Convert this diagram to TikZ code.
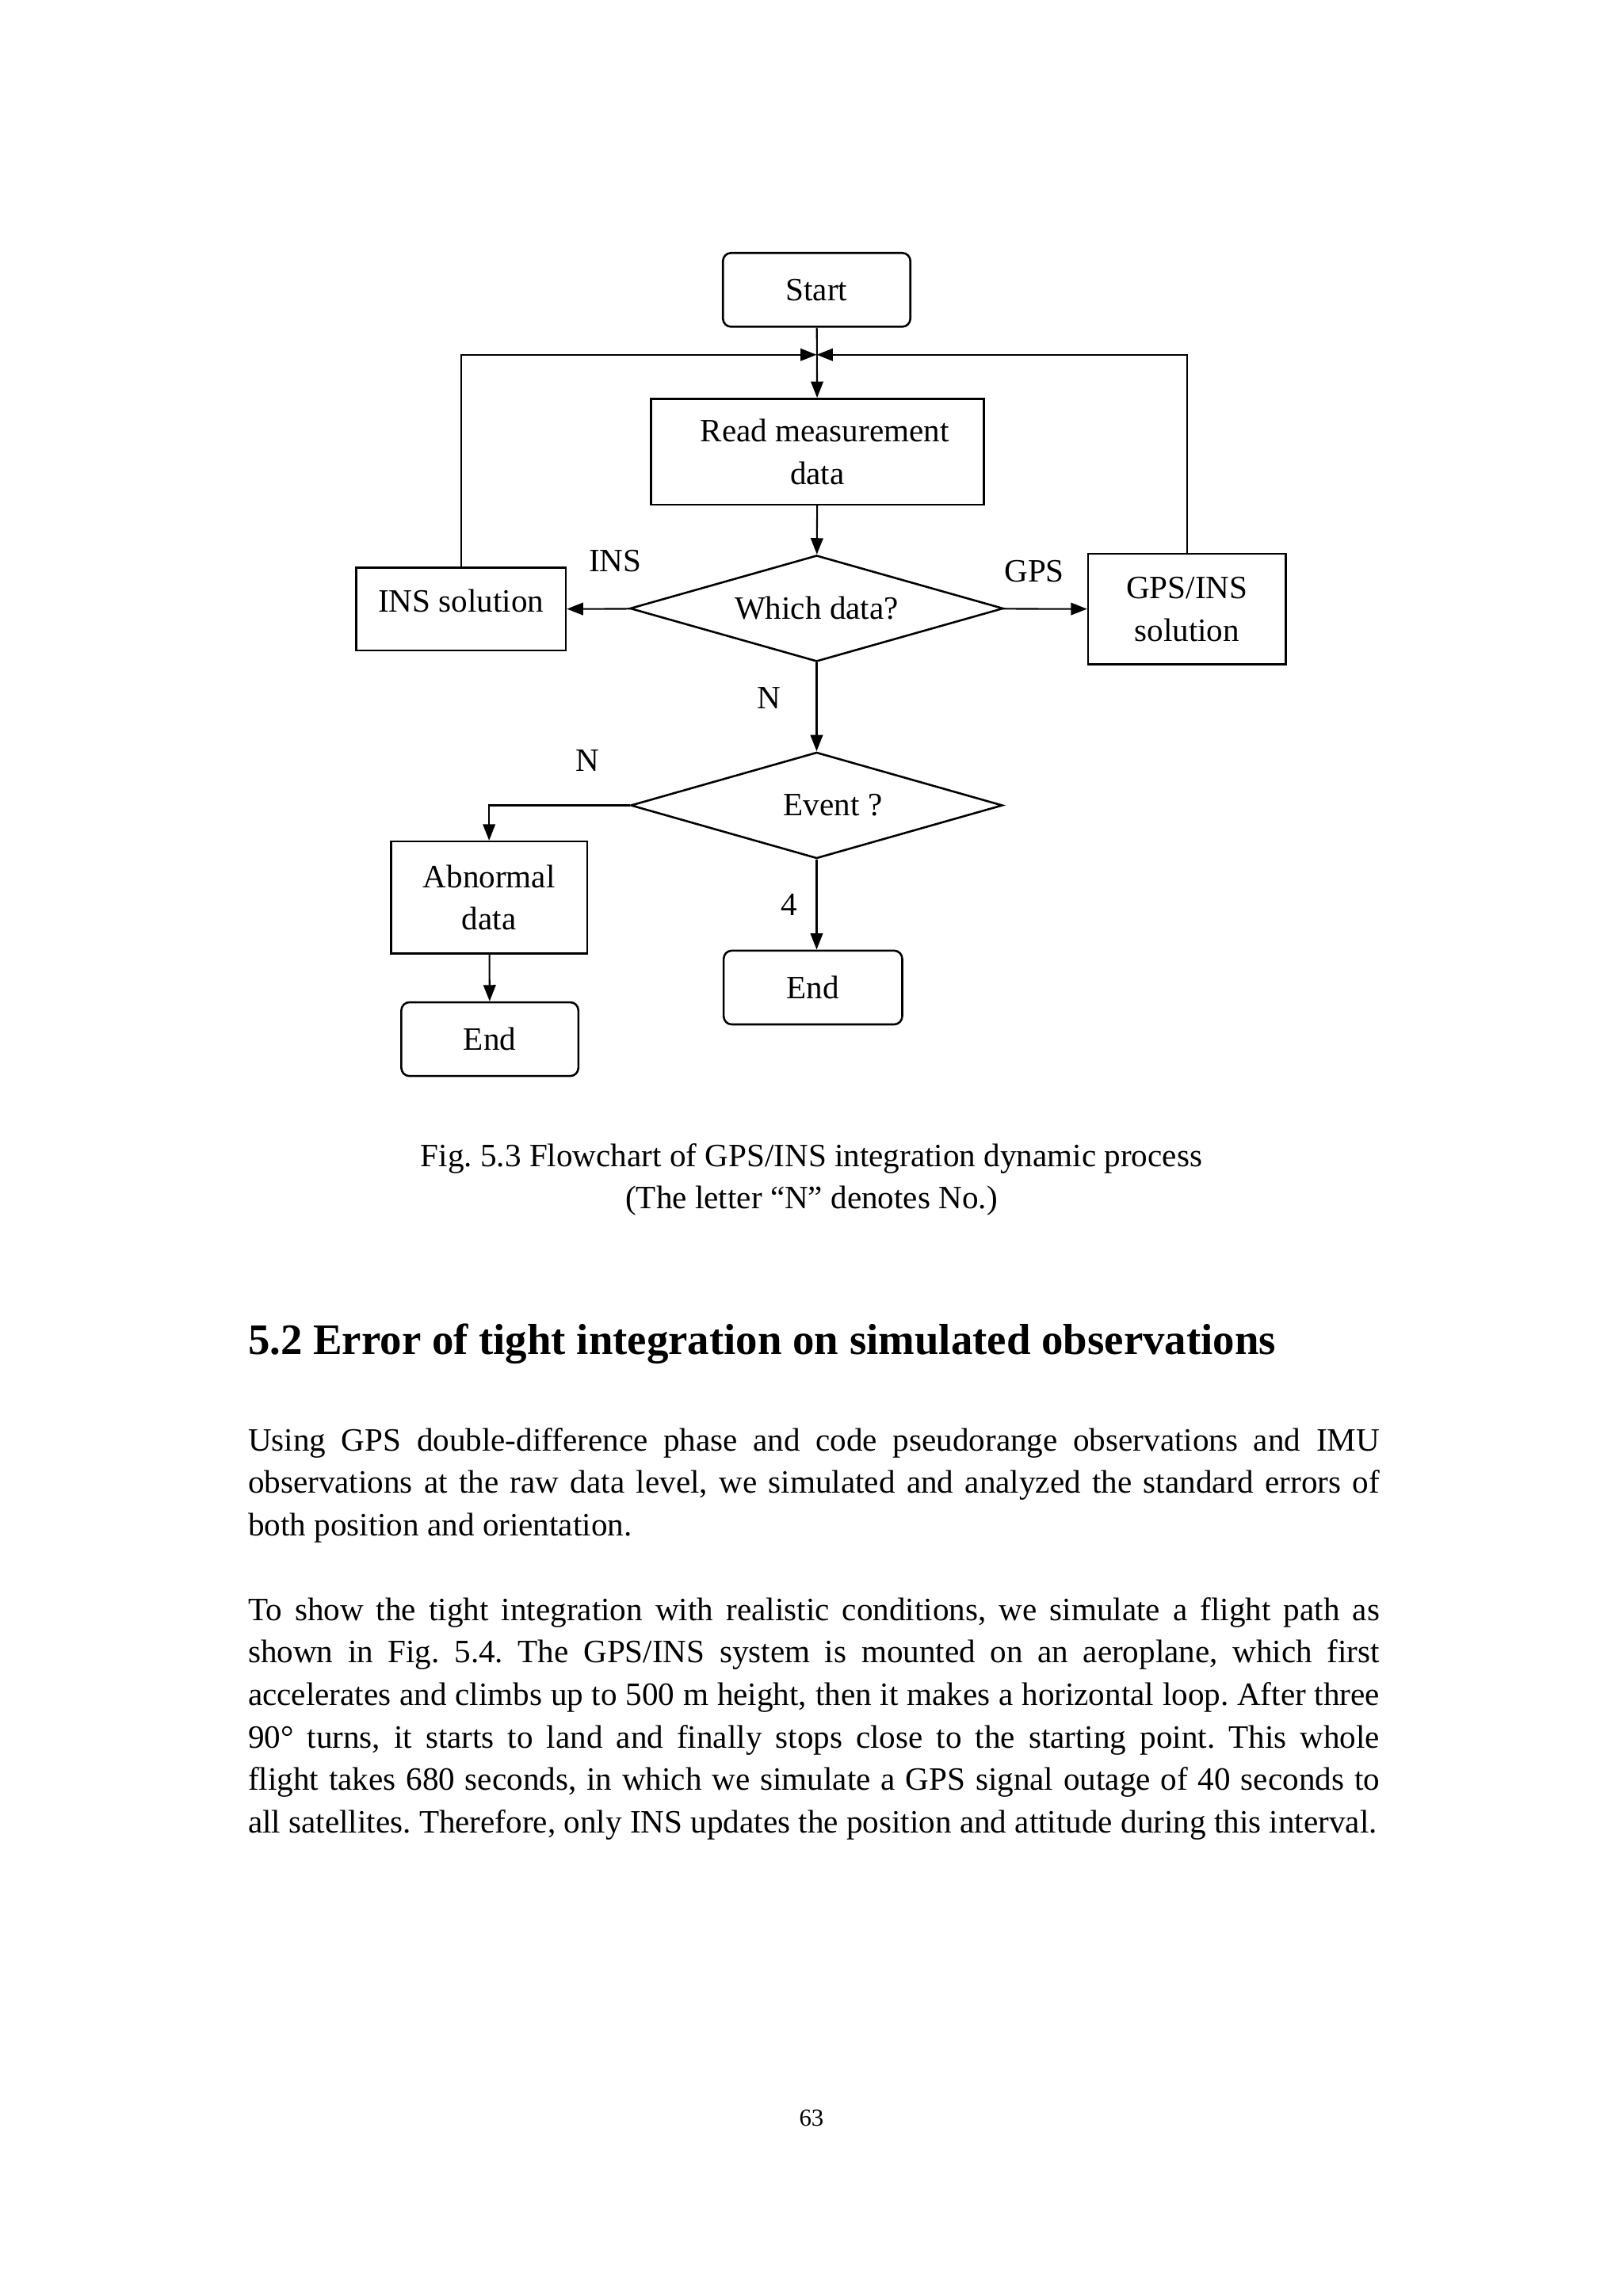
\documentclass[tikz,border=0pt]{standalone}
\usepackage{fontspec}
\setmainfont{Liberation Serif}
\usetikzlibrary{arrows.meta, shapes.geometric, positioning}
\tikzset{>={Triangle[length=2.1mm,width=1.6mm]}}
\newcommand{\jline}[1]{\makebox[14.64cm][s]{#1}}

\begin{document}
\frenchspacing
\begin{tikzpicture}[x=0.019091cm, y=-0.019091cm, line width=0.6pt,
        font=\fontsize{12}{15.7}\selectfont,
        proc/.style={draw, line width=0.75pt, rectangle, align=center, inner sep=1pt},
        term/.style={draw, line width=0.75pt, rectangle, rounded corners=3pt, inner sep=1pt},
        dec/.style={draw, line width=0.75pt, diamond, aspect=3.5, inner sep=0pt},
        txt/.style={inner sep=0pt}]

        \useasboundingbox (0,0) rectangle (1100,1556.6);

        % flowchart
        \node[term, minimum width=2.425cm, minimum height=0.955cm] (start) at (553.5,196.5) {Start};
        \coordinate (join) at (553.5,240.5);
        \node[proc, minimum width=4.305cm, minimum height=1.369cm] (read) at (554,306.2) {\hspace*{5.4pt}Read measurement\\data};
        \node[dec, minimum width=4.83cm, minimum height=1.375cm] (which) at (553.5,412.5) {Which data?};
        \node[proc, minimum width=2.711cm, minimum height=1.069cm, text depth=6.5pt] (ins) at (312.5,413) {INS solution};
        \node[proc, minimum width=2.558cm, minimum height=1.432cm] (gpsins) at (804.5,413) {GPS/INS\\solution};
        \node[dec, minimum width=4.811cm, minimum height=1.375cm] (event) at (553.5,546) {\hspace*{12pt}Event ?};
        \node[proc, minimum width=2.54cm, minimum height=1.451cm] (abn) at (331.5,608.5) {Abnormal\\data};
        \node[term, minimum width=2.29cm, minimum height=0.955cm] (end1) at (332,704.5) {End};
        \node[term, minimum width=2.31cm, minimum height=0.955cm] (end2) at (551,669.5) {End};

        \draw[->] (start) -- (read);
        \draw[->] (ins.north) |- (join);
        \draw[->] (gpsins.north) |- (join);
        \draw[->] (read) -- (which);
        \draw[->] (which) -- (ins);
        \draw[->] (which) -- (gpsins);
        \draw[->] (which) -- (event);
        \draw[->] (event.west) -| (abn.north);
        \draw[->] (abn) -- (end1);
        \draw[->] (event.south) -- (event.south |- end2.north);

        \node[txt] (lins) at (417,380.5) {INS};
        \node[txt] (lgps) at (701,387.5) {GPS};
        \node[txt] (ln1) at (521,473) {N};
        \node[txt] (ln2) at (398,515.5) {N};
        \node[txt] (lfour) at (535,613.5) {4};

        % caption
        \node[txt, anchor=base] (cap1) at (550,791) {Fig. 5.3 Flowchart of GPS/INS integration dynamic process};
        \node[txt, anchor=base] (cap2) at (550,819.5) {(The letter “N” denotes No.)};

        % section
        \node[txt, anchor=base west, font=\fontsize{16}{19}\selectfont\bfseries] (head) at (167.6,918) {5.2 Error of tight integration on simulated observations};

        \node[txt, anchor=base west] (l1) at (167.6,983.5) {\jline{Using GPS double-difference phase and code pseudorange observations and IMU}};
        \node[txt, anchor=base west] (l2) at (167.6,1012.3) {\jline{observations at the raw data level, we simulated and analyzed the standard errors of}};
        \node[txt, anchor=base west] (l3) at (167.6,1041.1) {both position and orientation.};

        \node[txt, anchor=base west] (l4) at (167.6,1098.5) {\jline{To show the tight integration with realistic conditions, we simulate a flight path as}};
        \node[txt, anchor=base west] (l5) at (167.6,1127.3) {\jline{shown in Fig. 5.4. The GPS/INS system is mounted on an aeroplane, which first}};
        \node[txt, anchor=base west] (l6) at (167.6,1156.1) {\jline{accelerates and climbs up to 500 m height, then it makes a horizontal loop. After three}};
        \node[txt, anchor=base west] (l7) at (167.6,1185) {\jline{90° turns, it starts to land and finally stops close to the starting point. This whole}};
        \node[txt, anchor=base west] (l8) at (167.6,1213.8) {\jline{flight takes 680 seconds, in which we simulate a GPS signal outage of 40 seconds to}};
        \node[txt, anchor=base west] (l9) at (167.6,1242.6) {all satellites. Therefore, only INS updates the position and attitude during this interval.};

        \node[txt, anchor=base, font=\fontsize{9}{11}\selectfont] (pnum) at (550,1441.6) {63};
\end{tikzpicture}
\end{document}
